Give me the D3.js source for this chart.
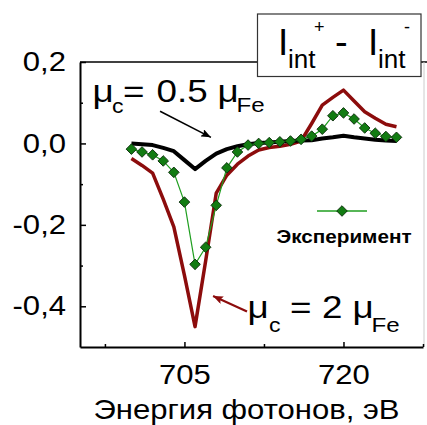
<!DOCTYPE html>
<html>
<head>
<meta charset="utf-8">
<script src="https://cdn.jsdelivr.net/npm/d3@7"></script>
<style>
  html, body { margin: 0; padding: 0; background: #fff; }
  svg { display: block; font-family: 'Liberation Sans', Arial, sans-serif; }
</style>
</head>
<body>
<div id="chart"></div>
<script>
// Photon energy, eV
const energies = [700, 701, 702, 703, 704, 705, 706, 707, 708, 709, 710, 711, 712,
    713, 714, 715, 716, 717, 718, 719, 720, 721, 722, 723, 724, 725]

// Measured I+ - I- (green diamonds)
const experiment = [-0.014, -0.021, -0.028, -0.043, -0.071, -0.144, -0.297, -0.255,
    -0.152, -0.060, -0.021, -0.004, 0.000, 0.002, 0.004, 0.006, 0.010, 0.018,
    0.035, 0.068, 0.075, 0.060, 0.038, 0.025, 0.017, 0.015]

// Calculation, mu_c = 0.5 mu_Fe (black)
const calcLow = [0.000, -0.002, -0.004, -0.011, -0.019, -0.041, -0.063, -0.043,
    -0.025, -0.014, -0.007, -0.002, 0.001, 0.002, 0.004, 0.006, 0.007, 0.008,
    0.012, 0.015, 0.019, 0.015, 0.012, 0.009, 0.007, 0.006]

// Calculation, mu_c = 2 mu_Fe (dark red)
const calcHigh = [-0.037, -0.054, -0.073, -0.137, -0.205, -0.324, -0.450, -0.289,
    -0.122, -0.078, -0.051, -0.031, -0.016, -0.010, -0.007, -0.002, 0.006, 0.049,
    0.094, 0.113, 0.131, 0.104, 0.078, 0.062, 0.047, 0.041]

const yTicks = [0.2, 0, -0.2, -0.4]
const yMinorTicks = [0.1, -0.1, -0.3]
const xTicks = [705, 720]
const xMinorTicks = [697.5, 712.5, 727.5]

// annotation arrows, in data units
const arrowLow = { from: [702.7, 0.079], to: [707.5, 0.015] }
const arrowHigh = { from: [710.9, -0.413], to: [707.7, -0.375] }

const W = 427
const H = 425
const sx = 1.15 // lettering of the original is a bit wide
const red = '#8c0c0c'
const green = '#1f9e1f'

const svg = d3.select('#chart').append('svg').attr('width', W).attr('height', H)

const x = d3.scaleLinear().domain([695.15, 727.5]).range([80, 423])
const y = d3.scaleLinear().domain([-0.5, 0.2]).range([347, 62])

const defs = svg.append('defs')
function arrowMarker(id, color) {
    defs.append('marker')
        .attr('id', id)
        .attr('markerUnits', 'userSpaceOnUse')
        .attr('markerWidth', 11)
        .attr('markerHeight', 8)
        .attr('refX', 10)
        .attr('refY', 4)
        .attr('orient', 'auto')
        .append('path')
        .attr('d', 'M0,0 L10,4 L0,8 L2,4 Z')
        .attr('fill', color)
}
arrowMarker('arrow-black', '#000')
arrowMarker('arrow-red', red)

// frame: top and right
svg.append('line')
    .attr('x1', x.range()[0]).attr('x2', W)
    .attr('y1', y(0.2)).attr('y2', y(0.2))
    .attr('stroke', '#000').attr('stroke-width', 1.5)
svg.append('line')
    .attr('x1', 424).attr('x2', 424)
    .attr('y1', y(0.2)).attr('y2', y(-0.5))
    .attr('stroke', '#ccc').attr('stroke-width', 1)

// Axes
const fmt = (d) => d3.format('.1f')(d).replace('.', ',').replace('\u2212', '-')

const yAxis = d3.axisLeft(y).tickValues(yTicks).tickFormat(fmt)
    .tickSizeInner(-6).tickSizeOuter(0).tickPadding(14)
svg.append('g')
    .attr('transform', `translate(${x.range()[0]},0)`)
    .call(yAxis)
    .attr('font-family', null)
    .attr('font-size', 27)
    .call((g) => g.select('.domain').attr('stroke-width', 2))
    .call((g) => g.selectAll('.tick line').attr('stroke-width', 1.5))
    .call((g) => g.selectAll('.tick text').attr('fill', '#000')
        .attr('transform', `scale(${sx},1)`).attr('x', -14 / sx))

svg.append('g')
    .attr('transform', `translate(${x.range()[0]},0)`)
    .call(d3.axisLeft(y).tickValues(yMinorTicks).tickFormat('').tickSizeInner(-3).tickSizeOuter(0))
    .call((g) => g.select('.domain').remove())
    .call((g) => g.selectAll('.tick line').attr('stroke-width', 1.5))

const xAxis = d3.axisBottom(x).tickValues(xTicks).tickFormat(d3.format('d'))
    .tickSizeInner(-5).tickSizeOuter(0).tickPadding(18)
svg.append('g')
    .attr('transform', `translate(0,${y.range()[0]})`)
    .call(xAxis)
    .attr('font-family', null)
    .attr('font-size', 27)
    .call((g) => g.select('.domain').attr('stroke-width', 2))
    .call((g) => g.selectAll('.tick line').attr('stroke-width', 1.5))
    .call((g) => g.selectAll('.tick text').attr('fill', '#000')
        .attr('transform', `scale(${sx},1)`))

svg.append('g')
    .attr('transform', `translate(0,${y.range()[0]})`)
    .call(d3.axisBottom(x).tickValues(xMinorTicks).tickFormat('').tickSizeInner(-3).tickSizeOuter(0))
    .call((g) => g.select('.domain').remove())
    .call((g) => g.selectAll('.tick line').attr('stroke-width', 1.5))

// Text helper
function word(x0, y0, str, size, opts = {}) {
    return svg.append('text')
        .attr('transform', `translate(${x0},${y0}) scale(${opts.stretch || sx},1)`)
        .attr('font-size', size)
        .attr('font-weight', opts.weight || 'normal')
        .attr('text-anchor', opts.anchor || 'start')
        .attr('fill', '#000')
        .text(str)
}

word(246.5, 418.5, 'Энергия фотонов, эВ', 27, { anchor: 'middle' })

// Series
const rows = energies.map((e, i) => ({
    e, exp: experiment[i], low: calcLow[i], high: calcHigh[i],
}))

const line = (key) => d3.line().x((d) => x(d.e)).y((d) => y(d[key]))

svg.append('path')
    .datum(rows)
    .attr('d', line('high'))
    .attr('fill', 'none')
    .attr('stroke', red)
    .attr('stroke-width', 3.5)
    .attr('stroke-linejoin', 'round')

svg.append('path')
    .datum(rows)
    .attr('d', line('low'))
    .attr('fill', 'none')
    .attr('stroke', '#000')
    .attr('stroke-width', 4)
    .attr('stroke-linejoin', 'round')

svg.append('path')
    .datum(rows)
    .attr('d', line('exp'))
    .attr('fill', 'none')
    .attr('stroke', green)
    .attr('stroke-width', 1.2)

const diamond = d3.symbol(d3.symbolSquare, 56)
svg.append('g')
    .selectAll('path')
    .data(rows)
    .join('path')
    .attr('d', diamond)
    .attr('transform', (d) => `translate(${x(d.e)},${y(d.exp)}) rotate(45)`)
    .attr('fill', '#127c12')
    .attr('stroke', '#0d300d')
    .attr('stroke-width', 0.9)

// Annotations
svg.append('line')
    .attr('x1', x(arrowLow.from[0])).attr('y1', y(arrowLow.from[1]))
    .attr('x2', x(arrowLow.to[0])).attr('y2', y(arrowLow.to[1]))
    .attr('stroke', '#000').attr('stroke-width', 1.5)
    .attr('marker-end', 'url(#arrow-black)')

svg.append('line')
    .attr('x1', x(arrowHigh.from[0])).attr('y1', y(arrowHigh.from[1]))
    .attr('x2', x(arrowHigh.to[0])).attr('y2', y(arrowHigh.to[1]))
    .attr('stroke', red).attr('stroke-width', 2.2)
    .attr('marker-end', 'url(#arrow-red)')

word(92.5, 101.7, 'μ', 32)
word(112, 113, 'c', 20)
word(123, 101.7, '=', 32)
word(156.5, 101.7, '0.5', 32)
word(217.5, 101.7, 'μ', 32)
word(236.5, 111.7, 'Fe', 21)

word(247.5, 318.3, 'μ', 32)
word(269, 331.7, 'c', 20)
word(290, 318.3, '=', 32)
word(322, 318.3, '2', 32)
word(352.5, 318.3, 'μ', 32)
word(371.5, 331.7, 'Fe', 21)

// Legend: experiment
svg.append('line')
    .attr('x1', 317).attr('x2', 367)
    .attr('y1', 211).attr('y2', 211)
    .attr('stroke', green).attr('stroke-width', 1.3)
svg.append('path')
    .attr('d', diamond)
    .attr('transform', 'translate(342,211) rotate(45)')
    .attr('fill', '#127c12')
    .attr('stroke', '#0d300d')
    .attr('stroke-width', 0.9)
word(344, 243.3, 'Эксперимент', 18, { weight: 'bold', anchor: 'middle' })

// Legend: quantity box
svg.append('rect')
    .attr('x', 257.5).attr('y', 14)
    .attr('width', 163.5).attr('height', 62.5)
    .attr('fill', '#fff')
    .attr('stroke', '#333')
    .attr('stroke-width', 1.2)

word(278, 55, 'I', 37, { stretch: 1 })
word(288, 68.3, 'int', 26, { stretch: 1 })
word(314, 33, '+', 18, { stretch: 1 })
word(335, 55, '-', 38, { stretch: 1 })
word(368, 55, 'I', 37, { stretch: 1 })
word(378, 68.3, 'int', 26, { stretch: 1 })
word(404, 33, '-', 18, { stretch: 1 })
</script>
</body>
</html>
